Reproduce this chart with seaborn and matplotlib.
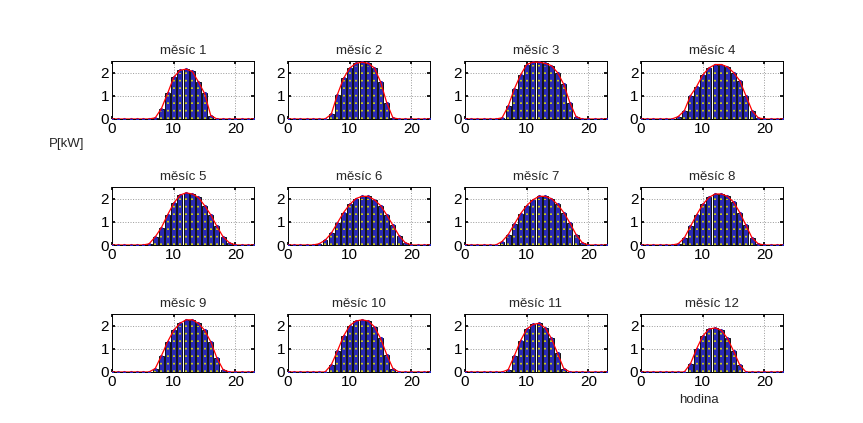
import numpy as np
import pandas as pd
import matplotlib
matplotlib.use("Agg")
import matplotlib.pyplot as plt
import seaborn as sns

hours = list(range(24))
months = ["měsíc %d" % i for i in range(1, 13)]

# hourly maximum power [kW] per month (hours 0..23)
m1 = {7: 0.05, 8: 0.45, 9: 1.1, 10: 1.8, 11: 2.1, 12: 2.15, 13: 2.05, 14: 1.6, 15: 1.1, 16: 0.15}
m2 = {7: 0.2, 8: 1.05, 9: 1.75, 10: 2.2, 11: 2.4, 12: 2.45, 13: 2.4, 14: 2.2, 15: 1.6, 16: 0.7, 17: 0.05}
m3 = {6: 0.05, 7: 0.55, 8: 1.3, 9: 1.9, 10: 2.35, 11: 2.45, 12: 2.45, 13: 2.4, 14: 2.3, 15: 2.0, 16: 1.5, 17: 0.7, 18: 0.1}
m4 = {6: 0.1, 7: 0.35, 8: 1.0, 9: 1.4, 10: 1.9, 11: 2.2, 12: 2.35, 13: 2.35, 14: 2.25, 15: 2.0, 16: 1.65, 17: 1.0, 18: 0.35, 19: 0.05}
m5 = {6: 0.05, 7: 0.35, 8: 0.75, 9: 1.3, 10: 1.8, 11: 2.15, 12: 2.25, 13: 2.2, 14: 2.05, 15: 1.7, 16: 1.3, 17: 0.8, 18: 0.35, 19: 0.1}
m6 = {5: 0.05, 6: 0.2, 7: 0.5, 8: 0.95, 9: 1.4, 10: 1.75, 11: 2.0, 12: 2.1, 13: 2.1, 14: 1.95, 15: 1.7, 16: 1.3, 17: 0.85, 18: 0.4, 19: 0.1}
m7 = {6: 0.15, 7: 0.45, 8: 0.9, 9: 1.35, 10: 1.7, 11: 1.95, 12: 2.1, 13: 2.1, 14: 2.0, 15: 1.75, 16: 1.4, 17: 0.95, 18: 0.45, 19: 0.1}
m8 = {6: 0.05, 7: 0.3, 8: 0.8, 9: 1.3, 10: 1.75, 11: 2.05, 12: 2.2, 13: 2.2, 14: 2.1, 15: 1.85, 16: 1.4, 17: 0.85, 18: 0.3, 19: 0.05}
m9 = {7: 0.15, 8: 0.7, 9: 1.3, 10: 1.8, 11: 2.1, 12: 2.25, 13: 2.25, 14: 2.1, 15: 1.8, 16: 1.3, 17: 0.6, 18: 0.1}
m10 = {7: 0.3, 8: 0.9, 9: 1.55, 10: 2.0, 11: 2.2, 12: 2.25, 13: 2.2, 14: 1.95, 15: 1.45, 16: 0.75, 17: 0.15}
m11 = {7: 0.1, 8: 0.7, 9: 1.35, 10: 1.85, 11: 2.05, 12: 2.1, 13: 1.9, 14: 1.45, 15: 0.8, 16: 0.15}
m12 = {8: 0.35, 9: 1.0, 10: 1.55, 11: 1.85, 12: 1.9, 13: 1.8, 14: 1.45, 15: 0.9, 16: 0.3}
month_values = [m1, m2, m3, m4, m5, m6, m7, m8, m9, m10, m11, m12]

xticks = [0, 10, 20]
yticks = [0, 1, 2]

sns.set_theme(style="white")
plt.rcParams['font.family'] = ['Liberation Sans', 'DejaVu Sans']

fig = plt.figure(figsize=(8.63, 4.23), dpi=100)
lefts = [0.1298, 0.3337, 0.5388, 0.7428]
bottoms = [0.7187, 0.4208, 0.1206]
w, h = 0.1645, 0.137

for i, (name, mv) in enumerate(zip(months, month_values)):
    r, c = divmod(i, 4)
    ax = fig.add_axes([lefts[c], bottoms[r], w, h])
    vals = [mv.get(hh, 0.0) for hh in hours]
    df = pd.DataFrame({"hour": hours, "P": vals})
    sns.barplot(data=df, x="hour", y="P", native_scale=True, color="#2a2ab4",
                saturation=1, edgecolor="#111111", linewidth=0.7, width=0.8, ax=ax, zorder=3)
    nz = df[df.P > 0]
    ax.vlines(nz.hour, 0, nz.P * 0.95, colors="#e8e800", linestyles=(0, (1, 3.5)),
              linewidth=1.2, zorder=4)
    ax.plot(df.hour, df.P, ".", color="#2020c0", markersize=2.5, zorder=5)
    sns.lineplot(data=df, x="hour", y="P", color="red", linewidth=0.9, ax=ax, zorder=6)
    ax.set_xlim(0, 23)
    ax.set_ylim(0, 2.5)
    ax.set_xticks(xticks)
    ax.set_yticks(yticks)
    ax.set_xlabel("")
    ax.set_ylabel("")
    ax.set_title(name, fontsize=9.5, pad=5)
    ax.tick_params(direction="in", length=2.5, labelsize=11, pad=2,
                   top=True, right=True, bottom=True, left=True, colors="black")
    ax.grid(True, linestyle=":", color="#999999", linewidth=0.7, zorder=0)
    ax.set_axisbelow(True)
    for s in ax.spines.values():
        s.set_color("black")
        s.set_linewidth(0.7)

fig.text(0.077, 0.66, "P[kW]", fontsize=9.5, ha="center", va="center")
fig.text(0.81, 0.055, "hodina", fontsize=9.5, ha="center", va="center")

fig.savefig("out.png", dpi=100)
